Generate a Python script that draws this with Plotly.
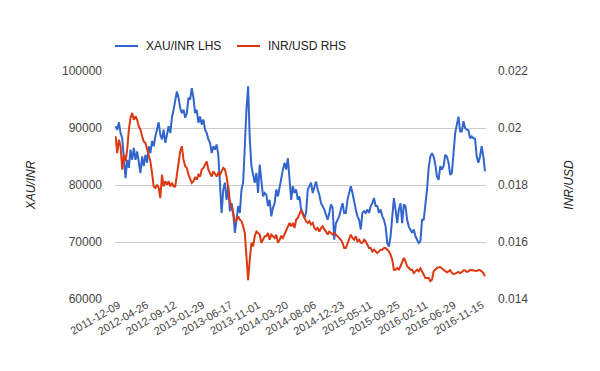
import pandas as pd
import plotly.graph_objects as go

# XAU/INR (left axis) sampled along the chart
xau_inr = [
    90300, 89700, 91000, 89100, 88200, 84400, 81200, 84400, 83000, 86200,
    84400, 86500, 84400, 85900, 83900, 82100, 85000, 83300, 85300, 83900,
    86800, 85600, 87700, 86800, 88500, 90000, 91000, 88800, 88000, 89700,
    87400, 88800, 90300, 89100, 91800, 93200, 95000, 96400, 95300, 93500,
    92600, 93200, 91800, 92600, 95300, 95000,
    97000, 95300, 92600, 93200, 90900, 92000, 90600, 91500, 89700, 89100,
    88000, 87400, 85600, 86800, 86200, 87100, 85300, 80900, 75100, 79200,
    80400, 77400, 79800, 75400, 76800, 75100, 71600, 73900, 76300, 75100,
    79200, 80400, 88000, 93200, 97300, 88000, 83300, 81500, 80400, 82100,
    78600, 83600, 80900, 78000, 78600,
    78300, 76300, 77400, 74500, 76000, 76800, 79200, 78000, 79800, 80900,
    82700, 83900, 82700, 84700, 80900, 77400, 79800, 78600, 79200, 77400,
    78000, 75700, 75100, 74200, 75100, 79200, 79800, 80400, 78600, 79800,
    80600, 79200, 78300, 76800, 76300, 75700, 74800, 73900, 75100, 76600,
    76000, 70400, 73300, 73900, 74500, 75700, 76800, 75100,
    75100, 77400, 78600, 79800, 78600, 76800, 75700, 74500, 73900, 72200,
    75100, 75400, 75100, 75700, 75100, 76300, 76800, 77700, 76300, 76300,
    75100, 75700, 74500, 73900, 72700, 69800, 69200, 71000, 73900, 77700,
    75700, 73300, 75700, 76800, 73300, 76600, 76300, 73900, 72700, 72200,
    71600, 72200, 71000, 70400, 69800,
    70100, 73900, 73900, 76300, 79200, 83000, 85000, 85600, 85000, 83600,
    81500, 80900, 83300, 82700, 83300, 85300, 85000, 83900, 81800, 82100,
    85900, 89100, 90600, 92000, 89400, 89400, 91200, 90000, 89700, 89600,
    88200, 88500, 88200, 88100, 85000, 83900, 85000, 86800, 85000, 82400,
]

# INR/USD (right axis) sampled along the chart
inr_usd = [
    0.01971, 0.01912, 0.01959, 0.01936, 0.01854, 0.01906, 0.01883, 0.01924, 0.01994, 0.02035,
    0.02053, 0.02029, 0.02041, 0.02029, 0.02006, 0.01994, 0.01971, 0.01953, 0.01947, 0.01924,
    0.01906, 0.01883, 0.01842, 0.01795, 0.01790, 0.01801, 0.01790, 0.01754, 0.01836, 0.01795,
    0.01813, 0.01801, 0.01813, 0.01795, 0.01807, 0.01795, 0.01795, 0.01842, 0.01883, 0.01918,
    0.01936, 0.01889, 0.01866, 0.01860, 0.01836, 0.01819,
    0.01807, 0.01813, 0.01828, 0.01819, 0.01836, 0.01830, 0.01854, 0.01860, 0.01871, 0.01883,
    0.01854, 0.01842, 0.01830, 0.01848, 0.01836, 0.01830, 0.01842, 0.01836, 0.01848, 0.01860,
    0.01854, 0.01830, 0.01790, 0.01743, 0.01725, 0.01702, 0.01673, 0.01678, 0.01690, 0.01678,
    0.01673, 0.01655, 0.01632, 0.01550, 0.01466, 0.01538, 0.01597, 0.01585, 0.01620, 0.01637,
    0.01632, 0.01626, 0.01597, 0.01608, 0.01620,
    0.01620, 0.01632, 0.01608, 0.01626, 0.01620, 0.01614, 0.01626, 0.01597, 0.01608, 0.01620,
    0.01614, 0.01626, 0.01643, 0.01655, 0.01667, 0.01655, 0.01667, 0.01649, 0.01678, 0.01684,
    0.01702, 0.01713, 0.01696, 0.01684, 0.01673, 0.01667, 0.01673, 0.01661, 0.01667, 0.01649,
    0.01643, 0.01649, 0.01637, 0.01649, 0.01655, 0.01643, 0.01637, 0.01626, 0.01637, 0.01632,
    0.01626, 0.01632, 0.01626, 0.01620, 0.01614, 0.01608, 0.01597, 0.01579,
    0.01579, 0.01597, 0.01614, 0.01626, 0.01614, 0.01608, 0.01620, 0.01602, 0.01608, 0.01597,
    0.01597, 0.01608, 0.01602, 0.01591, 0.01579, 0.01579, 0.01567, 0.01573, 0.01567, 0.01561,
    0.01567, 0.01573, 0.01573, 0.01579, 0.01579, 0.01573, 0.01567, 0.01556, 0.01538, 0.01503,
    0.01503, 0.01509, 0.01503, 0.01515, 0.01532, 0.01544, 0.01532, 0.01515, 0.01509, 0.01503,
    0.01503, 0.01491, 0.01497, 0.01503, 0.01497,
    0.01507, 0.01497, 0.01485, 0.01474, 0.01474, 0.01474, 0.01463, 0.01468, 0.01497, 0.01505,
    0.01509, 0.01511, 0.01512, 0.01507, 0.01503, 0.01501, 0.01494, 0.01497, 0.01501, 0.01491,
    0.01488, 0.01489, 0.01491, 0.01495, 0.01491, 0.01494, 0.01501, 0.01500, 0.01495, 0.01497,
    0.01502, 0.01501, 0.01500, 0.01501, 0.01498, 0.01502, 0.01501, 0.01497, 0.01491, 0.01480,
]

start_date = "2011-12-09"
end_date = "2016-12-15"
dates = pd.date_range(start_date, end_date, periods=len(xau_inr))

x_tick_labels = [
    "2011-12-09", "2012-04-26", "2012-09-12", "2013-01-29", "2013-06-17",
    "2013-11-01", "2014-03-20", "2014-08-06", "2014-12-23", "2015-05-11",
    "2015-09-25", "2016-02-11", "2016-06-29", "2016-11-15",
]
left_ticks = [60000, 70000, 80000, 90000, 100000]
left_tick_text = ["60000", "70000", "80000", "90000", "100000"]
right_ticks = [0.014, 0.016, 0.018, 0.020, 0.022]
right_tick_text = ["0.014", "0.016", "0.018", "0.02", "0.022"]

series_names = ["XAU/INR LHS", "INR/USD RHS"]
series_colors = ["#3366cc", "#dc3912"]

FONT = "Arial, Liberation Sans, sans-serif"

fig = go.Figure()
fig.add_trace(go.Scatter(
    x=dates, y=xau_inr, name=series_names[0], mode="lines",
    line=dict(color=series_colors[0], width=2), yaxis="y", showlegend=False,
))
fig.add_trace(go.Scatter(
    x=dates, y=inr_usd, name=series_names[1], mode="lines",
    line=dict(color=series_colors[1], width=2), yaxis="y2", showlegend=False,
))

# Legend drawn at top (line swatch + label), positioned relative to plot area
PLOT_W = 371.0
PLOT_H = 228.0
legend_y = 1 + 25 / PLOT_H
legend_items = [(0, series_names[0], series_colors[0]), (122, series_names[1], series_colors[1])]
for off, name, col in legend_items:
    fig.add_shape(
        type="line", xref="paper", yref="paper",
        x0=off / PLOT_W, x1=(off + 23) / PLOT_W, y0=legend_y, y1=legend_y,
        line=dict(color=col, width=2),
    )
    fig.add_annotation(
        xref="paper", yref="paper", x=(off + 29) / PLOT_W, y=legend_y,
        xanchor="left", yanchor="middle", text=name, showarrow=False,
        font=dict(size=12, color="#222222"),
    )

# page body adds an 8px offset, so margins are reduced on left/top accordingly
fig.update_layout(
    width=600, height=371,
    margin=dict(l=107, r=122, t=63, b=80, autoexpand=False),
    paper_bgcolor="white", plot_bgcolor="white",
    font=dict(family=FONT, size=12, color="#444444"),
    showlegend=False,
    xaxis=dict(
        type="date", range=["2011-12-06", "2016-12-20"], automargin=False,
        tickvals=x_tick_labels, ticktext=x_tick_labels, tickangle=-30,
        ticklabelstandoff=-3, ticklabelshift=3,
        showgrid=False, zeroline=False, showline=False, ticks="",
        tickfont=dict(size=11, color="#444444"),
    ),
    yaxis=dict(
        range=[60000, 100000], tickvals=left_ticks, ticktext=left_tick_text,
        showgrid=True, gridcolor="#cccccc", gridwidth=1, zeroline=False,
        showline=False, ticks="", ticklabelstandoff=12, automargin=False,
        title=dict(text="<i>XAU/INR</i>", font=dict(size=12, color="#222222"), standoff=23),
    ),
    yaxis2=dict(
        range=[0.014, 0.022], tickvals=right_ticks, ticktext=right_tick_text,
        overlaying="y", side="right", showgrid=False, zeroline=False,
        showline=False, ticks="", ticklabelstandoff=11, automargin=False,
        title=dict(text="<i>INR/USD</i>", font=dict(size=12, color="#222222"), standoff=37),
    ),
)

fig.write_html("out.html")
